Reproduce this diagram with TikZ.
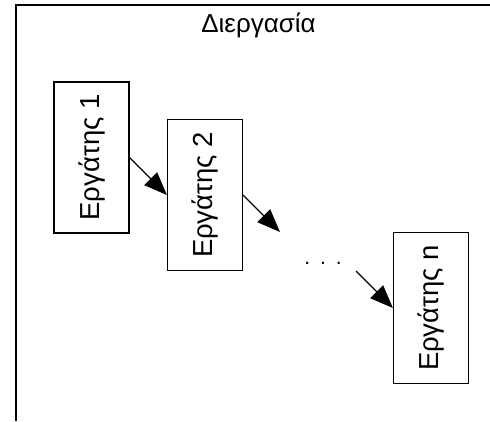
\documentclass[tikz,border=0pt]{standalone}
\usepackage{fontspec}
\setmainfont{Liberation Sans}
\usepackage{tikz}
\usetikzlibrary{arrows.meta}

\begin{document}
\begin{tikzpicture}[x=1pt, y=-1pt,
		worker/.style={draw, line width=1.2pt, minimum width=75pt, minimum height=151pt, inner sep=0pt, font=\fontsize{27.5}{32}\selectfont},
		flow/.style={line width=1.2pt, -{Triangle[length=23pt, width=18pt]}}]
			\useasboundingbox (0,0) rectangle (490,421);
			\draw[line width=1.2pt] (16,421) -- (16,5) -- (490,5);
			\node[anchor=base, font=\fontsize{26}{30}\selectfont] (title) at (258.5,32) {Διεργασία};
			
			\node[worker] (w1) at (91.5,157.5) {\rotatebox{90}{Εργάτης 1}};
			\node[worker] (w2) at (205,195) {\rotatebox{90}{Εργάτης 2}};
			\node[worker] (wn) at (431,308) {\rotatebox{90}{Εργάτης n}};
			\node[font=\fontsize{21}{25}\selectfont, anchor=base] (dots) at (323,264) {.\hspace{10pt}.\hspace{10pt}.};
			
			\coordinate (a2) at (280,232);
			\coordinate (a3) at (356,271);
			\draw[flow] (w1.east) -- (w2.west);
			\draw[flow] (w2.east) -- (a2);
			\draw[flow] (a3) -- (wn.west);
		\end{tikzpicture}
\end{document}
